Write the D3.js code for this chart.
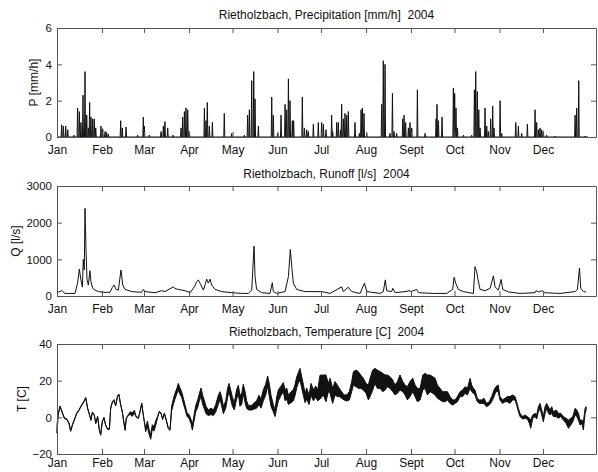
<!DOCTYPE html>
<html>
<head>
<meta charset="utf-8">
<script src="https://cdn.jsdelivr.net/npm/d3@7"></script>
<style>
  body { margin: 0; background: #fff; }
  svg { display: block; }
  .title { white-space: pre; }
</style>
</head>
<body>
<div id="root"></div>
<script>
// month ticks (day of year 2004)
const months = ["Jan", "Feb", "Mar", "Apr", "May", "Jun", "Jul", "Aug", "Sept", "Oct", "Nov", "Dec"];
const monthDays = [0, 31, 60, 91, 121, 152, 182, 213, 244, 274, 305, 335];

// precipitation events: day of year, peak [mm/h]
const precipDay = [
  3.2, 4.4, 6.0, 7.4, 11.7, 14.2, 15.4, 16.5, 17.9, 19.3,
  20.5, 21.6, 22.5, 23.4, 24.6, 25.7, 26.7, 30.3, 31.5, 33.1,
  34.2, 35.4, 43.9, 45.0, 47.6, 55.6, 59.5, 60.2, 63.6, 71.7,
  73.3, 74.4, 76.3, 80.0, 85.5, 86.6, 87.8, 88.9, 90.1, 91.2,
  101.6, 102.7, 103.6, 105.0, 107.1, 115.3, 120.4, 129.1, 131.4, 132.6,
  134.2, 135.6, 136.5, 138.8, 148.0, 149.1, 152.1, 154.4, 157.2, 158.3,
  159.5, 160.6, 162.2, 163.1, 169.1, 170.5, 172.1, 173.2, 176.7, 180.1,
  182.4, 183.6, 185.4, 189.3, 190.0, 192.8, 193.9, 195.5, 196.2, 197.4,
  198.5, 199.7, 200.8, 205.4, 208.4, 209.6, 210.5, 211.6, 213.5, 223.8,
  224.9, 226.1, 229.5, 231.2, 232.3, 234.1, 238.3, 239.2, 240.3, 242.2,
  243.3, 244.5, 248.4, 253.7, 261.3, 261.9, 262.9, 265.4, 273.2, 274.1,
  275.0, 276.0, 280.1, 285.8, 287.7, 288.6, 289.7, 290.7, 291.6, 295.0,
  296.2, 297.3, 298.9, 300.3, 301.2, 305.4, 306.5, 316.2, 318.0, 320.3,
  324.2, 329.5, 330.6, 331.8, 332.9, 334.1, 335.2, 337.5, 343.3, 357.1,
  358.2, 359.6, 364.0
];
const precipVal = [
  0.67, 0.6, 0.6, 0.4, 0.1, 1.6, 1.4, 0.8, 2.3, 3.6,
  1.2, 0.5, 1.9, 1.1, 1.0, 1.0, 0.5, 0.6, 0.45, 0.3,
  0.25, 0.15, 0.9, 0.5, 0.55, 0.1, 1.1, 0.6, 0.1, 0.3,
  0.6, 0.85, 0.5, 0.1, 0.5, 1.1, 1.4, 1.6, 1.5, 0.3,
  1.6, 0.9, 1.9, 0.6, 0.8, 1.3, 0.2, 0.1, 1.2, 1.5,
  3.1, 3.6, 2.1, 0.6, 2.2, 1.2, 0.2, 1.2, 1.8, 1.5,
  3.2, 2.0, 0.9, 0.9, 2.2, 0.5, 0.4, 0.3, 0.7, 0.8,
  0.8, 0.7, 0.4, 1.2, 0.3, 0.8, 0.8, 0.4, 1.8, 1.0,
  1.3, 1.2, 1.4, 0.8, 0.2, 1.5, 1.6, 1.3, 0.2, 1.8,
  4.2, 4.0, 0.2, 2.4, 0.3, 0.2, 1.0, 1.2, 0.8, 0.5,
  0.8, 0.5, 2.6, 0.2, 1.0, 1.8, 0.9, 1.1, 2.7, 2.4,
  1.6, 0.5, 0.1, 0.1, 2.6, 3.6, 2.5, 1.5, 0.5, 1.6,
  0.6, 0.3, 1.0, 1.7, 0.5, 2.0, 0.2, 0.8, 0.6, 0.2,
  0.7, 1.5, 0.8, 0.4, 0.5, 0.4, 0.3, 0.1, 0.05, 1.2,
  1.6, 3.1, 0.05
];

// runoff [l/s]
const runoffDay = [
  0, 2.1, 3.2, 5.5, 12.4, 14.2, 15.4, 16.5, 17.5, 18.1,
  18.8, 19.3, 20.0, 20.7, 21.6, 22.7, 23.4, 24.6, 26.2, 28.5,
  33.1, 36.5, 38.1, 39.3, 40.7, 42.3, 44.1, 45.3, 46.9, 51.5,
  58.4, 59.5, 60.7, 67.6, 72.2, 74.4, 80.2, 81.3, 83.6, 88.2,
  91.7, 94.7, 96.3, 97.4, 98.6, 100.9, 103.2, 104.3, 105.5, 106.6,
  108.9, 113.5, 120.4, 127.3, 131.9, 134.2, 135.8, 136.5, 137.6, 141.1,
  146.8, 148.4, 149.1, 151.4, 157.2, 159.5, 160.8, 161.8, 162.9, 165.2,
  170.9, 182.4, 188.2, 196.2, 197.4, 200.8, 203.1, 208.9, 211.9, 213.5,
  222.7, 224.9, 226.3, 227.2, 230.7, 231.4, 233.0, 239.9, 243.3, 244.0,
  247.9, 249.1, 259.4, 268.6, 272.7, 273.7, 274.8, 276.6, 280.1, 287.0,
  288.1, 289.3, 290.2, 291.6, 295.0, 298.5, 300.8, 301.9, 304.2, 306.1,
  307.2, 311.1, 319.2, 329.5, 330.2, 331.8, 334.8, 335.7, 346.7, 357.1,
  358.7, 360.1, 361.0, 362.8, 364.7
];
const runoffVal = [
  110, 120, 150, 70, 70, 350, 730, 440, 240, 1000,
  710, 2390, 1250, 440, 300, 690, 390, 210, 160, 120,
  100, 100, 230, 300, 180, 160, 710, 300, 180, 120,
  100, 180, 120, 90, 145, 120, 250, 200, 180, 145,
  90, 250, 390, 440, 350, 160, 460, 350, 460, 300,
  180, 120, 90, 70, 70, 160, 1360, 530, 180, 90,
  70, 360, 120, 70, 120, 530, 1270, 800, 350, 180,
  120, 120, 70, 250, 120, 240, 120, 70, 350, 120,
  70, 120, 440, 145, 120, 210, 90, 120, 145, 120,
  180, 90, 70, 70, 180, 510, 350, 180, 120, 70,
  800, 660, 440, 180, 145, 210, 550, 250, 160, 450,
  180, 110, 70, 90, 145, 110, 145, 90, 70, 120,
  180, 760, 210, 120, 110
];

// temperature [C]: daily low / high envelope
const tempDay = [
  0, 0.9, 2.1, 3.7, 5.1, 6.7, 8.3, 9.4, 10.6, 11.9,
  13.6, 15.2, 17, 18.8, 19.8, 21.1, 22.1, 23.4, 24.4, 25.7,
  26.7, 28, 29.2, 30.1, 31.2, 32.4, 33.5, 34.9, 36.1, 37,
  38.1, 39.3, 40.4, 41.8, 42.7, 43.7, 45, 46.2, 46.9, 47.8,
  49.2, 50.5, 51.9, 53.3, 54.5, 56.1, 57.2, 58.4, 59.3, 60.2,
  61.1, 62.3, 63.4, 64.6, 65.7, 66.9, 68, 69.4, 70.5, 71.7,
  72.8, 74, 75.6, 76.7, 77.9, 79, 80.2, 81.3, 82.7, 83.6,
  84.8, 85.9, 86.9, 88.2, 89.6, 91, 92.4, 93.3, 94.2, 95.6,
  97, 98.1, 99.3, 100.4, 101.6, 102.7, 104.3, 106.2, 107.8, 109.4,
  111.2, 112.4, 113.5, 114.7, 116.3, 117.6, 118.6, 119.7, 120.9, 122.2,
  123.8, 125, 126.1, 127.3, 128.4, 129.6, 130.7, 131.9, 134.2, 136,
  137.6, 139.2, 140.6, 142.2, 143.8, 145.2, 146.4, 147.5, 149.1, 150.3,
  151.4, 152.6, 154.4, 156, 157.2, 158.3, 159.5, 161.3, 162.9, 164.1,
  165.2, 166.4, 167.5, 168.7, 169.8, 171, 172.1, 173.7, 175.1, 176.7,
  178.3, 179.7, 181.3,
  183.6, 185.4, 187.0, 188.2, 190.0, 191.6, 193.2, 194.6, 196.2, 197.8,
  199.7, 201.5, 203.1, 204.3, 206.1, 207.7, 209.3, 211.2, 213.0, 214.6,
  215.8, 217.6, 219.2, 220.8, 222.7, 224.5, 226.1, 227.7, 229.5, 231.4,
  233.0, 234.6, 236.4, 238.3, 239.9, 241.5, 243.3, 245.2, 246.8, 248.4,
  250.3, 252.1, 253.7, 255.3, 257.1, 259.0, 260.6, 262.2, 264.0, 265.9,
  267.5, 269.1, 270.9, 272.7, 274.3, 276.0, 277.8, 279.6, 281.2, 282.9,
  284.7, 285.8, 287.0, 288.1, 289.7, 291.1, 292.7, 294.3, 296.1, 297.9,
  299.6, 301.2, 302.5, 304.1, 305.3, 307.1, 308.8, 310.4, 312.2, 314.0,
  315.7, 316.8, 318.0, 319.1, 320.9, 322.6, 324.2, 325.6, 326.5, 327.9,
  329.5, 330.6, 331.8, 332.9, 334.1, 335.2, 336.4, 337.5, 338.7, 339.8,
  341.0, 342.1, 344.0, 345.6, 347.2, 349.0, 350.9, 352.5, 354.1, 355.5,
  357.1, 358.2, 359.4, 360.5, 361.7, 362.8, 364.0, 364.7
];
const tempLow = [
  -8.7, 1.8, 5.8, 2.3, -0.7, -1.2, -3.5, -7.7, -4.4, -1.7,
  2.0, 3.8, 6.5, 8.7, 10.5, 4.7, 2.0, -1.7, 2.5, 1.1,
  -3.5, 0.2, -7.1, -9.8, -2.6, -0.4, -4.4, -6.6, -6.6, 4.7,
  8.0, 9.3, 6.2, 11.6, 12.3, 7.4, 2.8, -3.5, -7.1, -0.7,
  1.1, 1.5, 0.5, 2.4, 0.2, -0.7, 2.9, 7.4, 2.0, -2.6,
  -7.8, -5, -9, -12, -6.5, -7.5, -4.5, 0.2, 2.9, 2.0,
  -1.2, 2.0, -2.6, -6.2, -7.1, 3.5, 7, 10, 13, 15,
  12.5, 11, 8, 4.5, 0.5, -0.5, -3.5, -7, -3, 3,
  5.5, 9, 11.5, 7, 4.5, 2, 1, 1.5, 1, 3,
  7, 10, 6, 2, 5, 11, 14, 10, 6, 4,
  10, 13, 6, 7, 13, 8, 5, 4, 4, 4.5,
  5, 7, 5, 9, 12, 17, 11, 6, 3, 0.4,
  5, 9, 12, 14, 9, 10, 7, 8, 9, 12,
  16, 19, 20, 16, 12, 8, 10, 7, 12, 9,
  11, 9, 10,
  12.2, 8.5, 14, 13.1, 7.6, 12.2, 11.3, 11.3, 10.4, 9.5,
  8.9, 9.5, 14, 17.6, 16.7, 15.8, 15.8, 14.9, 13.1, 9.5,
  11.3, 14.9, 18.5, 15.8, 15.8, 14, 14.9, 16.7, 15.8, 14,
  12.2, 13.1, 14.9, 14, 12.2, 9.5, 11.3, 14, 11.3, 8.5,
  9.5, 14.9, 15.8, 12.2, 14, 13.1, 12.2, 10.4, 9.5, 8.5,
  8.5, 9.5, 7.6, 6.7, 7.6, 8.5, 11.3, 11.3, 13.1, 12.2,
  15.8, 14, 13.1, 12.2, 8.5, 7.6, 7.6, 7.6, 5.8, 6.7,
  8.5, 11.3, 14, 14, 9.5, 7.6, 8.5, 8.5, 7.6, 9.5,
  9.5, 6.7, 3.1, 0.4, -0.9, -0.5, -0.9, -3.3, -6, -0.5,
  0.4, -0.9, 3.1, 4.9, 1.3, -2.4, 2.2, 4.9, 2.2, 1.3,
  2.2, 0.4, 0.4, -0.5, 0.4, -1.5, -3.3, -6, -4.2, -2.4,
  1.3, 0.4, -1.5, -4.2, -3.3, -6.9, 2.2, 4
];
const tempHigh = [
  -4, 2.2, 6.2, 2.7, -0.3, -0.8, -3.1, -7.3, -4.0, -1.3,
  2.4, 4.2, 6.9, 9.1, 10.9, 5.1, 2.4, -1.3, 2.9, 1.5,
  -3.1, 0.6, -6.7, -9.4, -2.2, 0, -4.0, -6.2, -6.2, 5.1,
  8.4, 9.7, 6.6, 12, 12.7, 7.8, 3.2, -3.1, -6.7, -0.3,
  1.5, 3.0, 2.5, 3.8, 0.6, -0.3, 3.3, 7.8, 2.4, -2.2,
  -6, -2, -6.5, -9.5, -4, -5, -2, 0.6, 3.3, 2.4,
  -0.8, 2.4, -2.2, -5.8, -6.7, 6, 10, 13, 16, 18.5,
  16, 14, 11, 7, 2.5, 1.5, -1.2, -4, 0, 6.5,
  9.5, 13, 16, 12, 9, 6, 4, 5, 4, 7,
  12, 14, 11, 6, 9, 16, 18.5, 15, 11, 8,
  15, 17.5, 12, 13, 18, 14, 9, 6.5, 6.5, 8,
  9, 12, 10, 15, 18, 22.5, 18, 12, 7, 4,
  11, 15, 17, 19, 15, 16, 12, 14, 15, 18,
  22, 24.5, 26.7, 22, 18, 13, 16, 12, 18.5, 15,
  17, 15, 23,
  23.1, 23.1, 18.5, 21.3, 15.8, 19.5, 17.6, 15.8, 14, 12.2,
  12.2, 14, 19.5, 24.9, 25.8, 24.9, 23.1, 21.3, 18.5, 17.6,
  21.3, 25.8, 26.7, 25.8, 24.9, 24, 23.1, 23.1, 22.2, 20.4,
  17.6, 19.5, 23.1, 19.5, 17.6, 16.7, 19.5, 21.3, 17.6, 15.8,
  15.8, 23.1, 24, 23.1, 23.1, 22.2, 21.3, 17.6, 15.8, 14,
  14, 14, 11.3, 9.5, 9.5, 11.3, 14, 14.9, 16.7, 15.8,
  21.3, 17.6, 15.8, 14.9, 10.4, 9.5, 9.5, 10.4, 7.6, 8.5,
  11.3, 14.9, 16.7, 17.6, 11.3, 9.5, 10.4, 11.3, 11.3, 12.2,
  11.3, 8.5, 4.9, 2.2, 0.4, 1.3, 0.4, -0.5, -1.5, 1.3,
  2.2, 1.3, 5.8, 7.6, 4, 0.4, 5.8, 7.6, 5.8, 4,
  5.8, 3.1, 4, 2.2, 2.2, 0.4, -0.5, -1.5, -0.5, 0.4,
  4.9, 4, 2.2, -1.5, -1.5, -2.4, 4.9, 5.8
];

const width = 598, height = 472;
const fontFamily = '"Liberation Sans", Arial, Helvetica, sans-serif';
const ink = "#111";
const boxColor = "#555";

// shared x scale (day of year)
const x = d3.scaleLinear().domain([0, 371.5]).range([57, 596]);

const svg = d3.select("#root").append("svg")
    .attr("width", width)
    .attr("height", height)
    .style("font-family", fontFamily);

function drawPanel(p) {
    const y = d3.scaleLinear().domain(p.domain).range([p.bottom, p.top]);
    const g = svg.append("g");

    p.draw(g, y);

    const styleAxis = (sel, size) => {
        sel.attr("font-family", fontFamily).attr("font-size", size);
        sel.selectAll("path.domain, .tick line").attr("stroke", boxColor);
        sel.selectAll("text").attr("fill", ink);
    };

    g.append("g")
        .attr("transform", `translate(0,${p.bottom})`)
        .call(d3.axisBottom(x).tickValues(monthDays)
            .tickFormat(d => months[monthDays.indexOf(d)])
            .tickSizeInner(-5).tickSizeOuter(0).tickPadding(p.xPad))
        .call(styleAxis, 12);

    g.append("g")
        .attr("transform", `translate(0,${p.top})`)
        .call(d3.axisTop(x).tickValues(monthDays).tickFormat("")
            .tickSizeInner(-5).tickSizeOuter(0))
        .call(styleAxis, 12);

    g.append("g")
        .attr("transform", `translate(${x.range()[0]},0)`)
        .call(d3.axisLeft(y).tickValues(p.ticks).tickFormat(d3.format("d"))
            .tickSizeInner(-5).tickSizeOuter(0).tickPadding(5))
        .call(styleAxis, 11.5);

    g.append("g")
        .attr("transform", `translate(${x.range()[1]},0)`)
        .call(d3.axisRight(y).tickValues(p.ticks).tickFormat("")
            .tickSizeInner(-5).tickSizeOuter(0))
        .call(styleAxis, 12);

    // title
    svg.append("text")
        .attr("class", "title")
        .attr("x", (x.range()[0] + x.range()[1]) / 2)
        .attr("y", p.titleY)
        .attr("text-anchor", "middle")
        .attr("font-size", 12)
        .attr("fill", ink)
        .text(p.title);

    // y label
    const cy = (p.top + p.bottom) / 2;
    svg.append("text")
        .attr("transform", `translate(${p.labelX},${cy}) rotate(-90)`)
        .attr("text-anchor", "middle")
        .attr("dy", "0.35em")
        .attr("font-size", 12)
        .attr("fill", ink)
        .text(p.label);
}

// Precipitation
drawPanel({
    top: 28, bottom: 137, domain: [0, 6], ticks: [0, 2, 4, 6], xPad: 8,
    title: "Rietholzbach, Precipitation [mm/h]  2004", titleY: 19,
    label: "P [mm/h]", labelX: 34,
    draw: (g, y) => {
        const pts = [[0, 0]];
        precipDay.forEach((d, i) => {
            pts.push([d - 0.35, 0], [d, precipVal[i]], [d + 0.35, 0]);
        });
        pts.push([366, 0]);
        g.append("path")
            .datum(pts)
            .attr("fill", "none")
            .attr("stroke", ink)
            .attr("stroke-width", 1)
            .attr("d", d3.line().x(d => x(d[0])).y(d => y(d[1])));
    }
});

// Runoff
drawPanel({
    top: 186, bottom: 296, domain: [0, 3000], ticks: [0, 1000, 2000, 3000], xPad: 8,
    title: "Rietholzbach, Runoff [l/s]  2004", titleY: 177.5,
    label: "Q [l/s]", labelX: 16,
    draw: (g, y) => {
        g.append("path")
            .datum(runoffDay.map((d, i) => [d, runoffVal[i]]))
            .attr("fill", "none")
            .attr("stroke", ink)
            .attr("stroke-width", 1)
            .attr("d", d3.line().x(d => x(d[0])).y(d => y(d[1])));
    }
});

// Temperature
drawPanel({
    top: 344, bottom: 454, domain: [-20, 40], ticks: [-20, 0, 20, 40], xPad: 4,
    title: "Rietholzbach, Temperature [C]  2004", titleY: 336,
    label: "T [C]", labelX: 22,
    draw: (g, y) => {
        const rows = tempDay.map((d, i) => [d, tempLow[i], tempHigh[i]]);
        g.append("path")
            .datum(rows)
            .attr("fill", ink)
            .attr("stroke", ink)
            .attr("stroke-width", 1)
            .attr("stroke-linejoin", "round")
            .attr("d", d3.area().x(d => x(d[0])).y0(d => y(d[1])).y1(d => y(d[2])));
    }
});
</script>
</body>
</html>
